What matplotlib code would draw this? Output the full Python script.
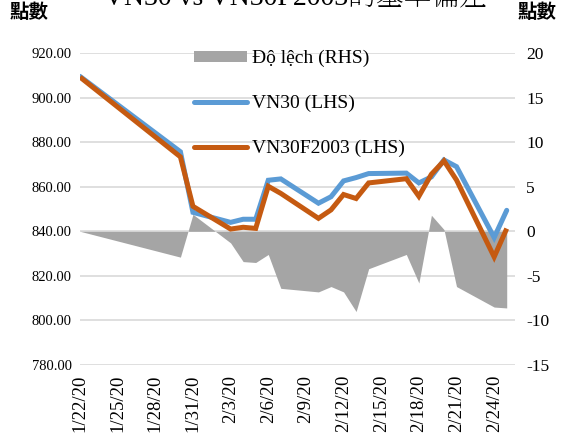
import numpy as np
import pandas as pd
import matplotlib
matplotlib.use("Agg")
import matplotlib.pyplot as plt
import matplotlib.dates as mdates
from matplotlib.patches import Patch
from matplotlib.lines import Line2D

# trading days (Tet holiday gap 1/23 - 1/29)
dates = ['2020-01-22', '2020-01-30', '2020-01-31', '2020-02-03', '2020-02-04',
         '2020-02-05', '2020-02-06', '2020-02-07', '2020-02-10', '2020-02-11',
         '2020-02-12', '2020-02-13', '2020-02-14', '2020-02-17', '2020-02-18',
         '2020-02-19', '2020-02-20', '2020-02-21', '2020-02-24', '2020-02-25']
vn30 = [909.5, 875.7, 848.5, 844.0, 845.4, 845.4, 862.9, 863.5, 852.6, 855.5,
        862.6, 864.1, 865.9, 866.1, 861.7, 864.4, 872.0, 869.0, 837.2, 849.4]
vn30f = [909.2, 873.4, 851.2, 841.0, 841.8, 841.3, 860.2, 857.0, 845.8, 849.6,
         856.5, 854.7, 861.7, 863.6, 855.7, 865.6, 871.6, 863.0, 828.5, 841.2]
deviation = [0.0, -2.9, 1.9, -1.3, -3.4, -3.5, -2.6, -6.4, -6.8, -6.2,
             -6.8, -9.0, -4.2, -2.6, -5.8, 1.8, 0.2, -6.2, -8.5, -8.6]

tickDates = pd.date_range('2020-01-22', '2020-02-24', freq='3D')
tickLabels = [f"{d.month}/{d.day}/20" for d in tickDates]
leftTicks = [780, 800, 820, 840, 860, 880, 900, 920]
rightTicks = [-15, -10, -5, 0, 5, 10, 15, 20]

title = "VN30 vs VN30F2003的基準偏差"
seriesNames = ["Độ lệch (RHS)", "VN30 (LHS)", "VN30F2003 (LHS)"]

serif = ['Liberation Serif', 'Noto Serif TC', 'Noto Sans CJK TC']
plt.rcParams['font.family'] = serif
plt.rcParams['axes.unicode_minus'] = False

x = pd.to_datetime(dates)

fig = plt.figure(figsize=(5.71, 4.40), dpi=100)
ax2 = fig.add_axes([80/571, 1-365/440, 435/571, 312/440])
ax = ax2.twinx()

# gray area on the right axis, grid behind it
ax2.fill_between(x, 0, deviation, color='#a5a5a5', linewidth=0, zorder=2)
ax2.set_ylim(-15, 20)
ax2.set_yticks(rightTicks)
ax2.grid(axis='y', color='#d9d9d9', linewidth=1.2, zorder=0)
ax2.set_axisbelow(True)
ax2.yaxis.tick_right()
ax2.tick_params(axis='y', length=0, pad=8, labelsize=12.5)

# lines on the left axis, on top
ax.set_zorder(ax2.get_zorder() + 1)
ax.patch.set_visible(False)
ax.plot(x, vn30, color='#5b9bd5', linewidth=3.6, solid_capstyle='round', solid_joinstyle='miter')
ax.plot(x, vn30f, color='#c55a11', linewidth=3.6, solid_capstyle='butt', solid_joinstyle='miter')
ax.set_ylim(780, 920)
ax.set_yticks(leftTicks)
ax.set_yticklabels([f"{v:.2f}" for v in leftTicks])
ax.yaxis.tick_left()
ax.tick_params(axis='y', length=0, pad=6, labelsize=10.5)

start = pd.Timestamp('2020-01-22')
ax2.set_xlim(mdates.date2num(start), mdates.date2num(start) + 34.66)
ax2.set_xticks(tickDates)
ax2.set_xticklabels(tickLabels, rotation=90, fontsize=13.5)
ax2.tick_params(axis='x', length=0, pad=7)

for a in (ax, ax2):
    for s in a.spines.values():
        s.set_visible(False)

handles = [Patch(facecolor='#a5a5a5', edgecolor='none'),
           Line2D([], [], color='#5b9bd5', linewidth=3.6, solid_capstyle='round'),
           Line2D([], [], color='#c55a11', linewidth=3.6, solid_capstyle='round')]
ax.legend(handles, seriesNames, loc='upper left', bbox_to_anchor=(194/571, 1-50/440),
          bbox_transform=fig.transFigure, frameon=False, fontsize=14,
          handlelength=2.7, handleheight=0.5, handletextpad=0.3, labelspacing=1.42,
          borderpad=0, borderaxespad=0)

fig.text(295/571, 1-5/440, title, ha='center', va='baseline', fontsize=20)
cjk = ['Noto Sans CJK TC', 'DejaVu Sans']
fig.text(29/571, 1-12/440, "點數", ha='center', va='center', fontsize=14, fontweight='bold', family=cjk)
fig.text(537/571, 1-13/440, "點數", ha='center', va='center', fontsize=14, fontweight='bold', family=cjk)

fig.savefig('out.png', dpi=100)
